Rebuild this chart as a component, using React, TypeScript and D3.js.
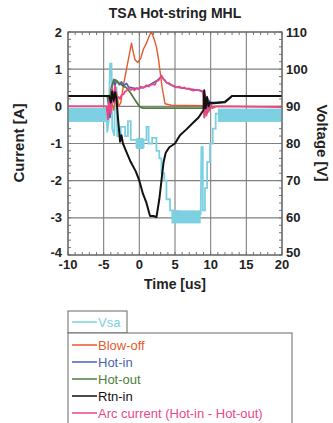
import React from 'react';
import * as d3 from 'd3';

// time [us] vs current [A] (left) and voltage [V] (right)
const xTicks = [-10, -5, 0, 5, 10, 15, 20];
const currentTicks = [-4, -3, -2, -1, 0, 1, 2];
const voltageTicks = [50, 60, 70, 80, 90, 100, 110];

const blowOff: [number, number][] = [
  [-10, 0.0], [-4.5, 0.0], [-4.2, -0.3], [-4.0, 0.2], [-3.6, -0.1], [-3.2, 0.4], [-2.9, 0.0], [-2.6, 0.1],
  [-2.2, 0.6], [-1.8, 1.0], [-1.4, 1.4], [-1.1, 1.7], [-0.9, 1.5], [-0.6, 1.25], [-0.2, 1.18], [0.2, 1.3],
  [0.6, 1.55], [1.0, 1.7], [1.4, 1.9], [1.7, 2.0], [2.0, 1.85], [2.4, 1.6], [2.7, 1.25], [2.9, 0.95],
  [3.2, 0.5], [3.6, 0.07], [4.5, 0.03], [9.0, 0.02], [9.15, -0.3], [9.3, 0.1], [9.5, -0.2], [9.8, 0.0], [20, 0.0],
];

const hotIn: [number, number][] = [
  [-10, 0.28], [-4.5, 0.28], [-4.3, 0.0], [-4.1, -0.3], [-3.9, 0.5], [-3.6, 0.72], [-3.4, 0.55], [-3.2, 0.7],
  [-2.8, 0.58], [-2.5, 0.66], [-2.2, 0.55], [-1.8, 0.62], [-1.5, 0.52], [-1.0, 0.5], [-0.5, 0.48], [0.5, 0.5],
  [1.5, 0.58], [2.5, 0.7], [3.1, 0.8], [3.8, 0.64], [5, 0.52], [6.5, 0.48], [8.5, 0.43], [9.0, 0.4],
  [9.2, -0.1], [9.5, 0.2], [10, 0.1], [12, 0.12], [13, 0.28], [20, 0.28],
];

const hotOut: [number, number][] = [
  [-10, 0.28], [-4.5, 0.28], [-4.2, 0.1], [-3.9, 0.5], [-3.5, 0.72], [-3.2, 0.68], [-2.8, 0.62], [-2.3, 0.55],
  [-1.8, 0.5], [-1.2, 0.35], [-0.5, 0.14], [0, 0.0], [0.5, -0.05], [9.0, -0.05], [9.2, 0.3], [9.4, -0.2],
  [9.6, 0.15], [9.8, -0.1], [10.2, 0.08], [12, 0.1], [13, 0.28], [20, 0.28],
];

const rtnIn: [number, number][] = [
  [-10, 0.28], [-4.2, 0.28], [-4.0, 0.1], [-3.8, 0.4], [-3.6, 0.15], [-3.4, 0.38], [-3.2, 0.2], [-3.0, -0.3],
  [-2.7, -0.95], [-2.5, -0.78], [-2.3, -1.0], [-1.8, -1.23], [-1.2, -1.5], [-0.5, -1.75], [0, -2.0],
  [0.5, -2.35], [1.0, -2.6], [1.5, -2.95], [2.0, -2.95], [2.4, -2.98], [2.8, -2.5], [3.1, -2.0], [3.4, -1.5],
  [3.7, -1.25], [4.2, -1.1], [5, -1.0], [5.7, -0.78], [6.6, -0.62], [7.5, -0.45], [8.3, -0.3], [9.0, -0.1],
  [9.1, 0.43], [9.3, -0.05], [9.5, 0.25], [9.7, 0.0], [9.9, 0.1], [10.5, 0.08], [12, 0.12], [12.5, 0.2],
  [13, 0.28], [20, 0.28],
];

const arcCurrent: [number, number][] = [
  [-10, 0.0], [-4.6, 0.0], [-4.4, -0.35], [-4.2, 0.2], [-4.0, -0.2], [-3.8, 0.5], [-3.6, 0.1], [-3.4, 0.55],
  [-3.2, 0.2], [-2.9, 0.25], [-2.7, 0.2], [-2.5, 0.3], [-2.2, 0.33], [-2.0, 0.4], [-1.8, 0.42], [-1.5, 0.5],
  [-1.2, 0.44], [-1.0, 0.47], [-0.7, 0.43], [-0.4, 0.49], [-0.1, 0.46], [0.2, 0.53], [0.6, 0.5], [1.0, 0.57],
  [1.3, 0.53], [1.5, 0.56], [1.9, 0.6], [2.2, 0.58], [2.4, 0.68], [2.7, 0.7], [2.9, 0.77], [3.1, 0.83],
  [3.4, 0.72], [3.6, 0.7], [3.8, 0.64], [4.2, 0.62], [4.5, 0.57], [4.9, 0.55], [5.2, 0.51], [5.6, 0.53],
  [6.0, 0.49], [6.3, 0.51], [6.6, 0.47], [7.0, 0.48], [7.2, 0.44], [7.6, 0.42], [8.0, 0.45], [8.5, 0.42],
  [8.9, 0.38], [9.0, 0.1], [9.1, -0.3], [9.25, 0.3], [9.4, -0.25], [9.55, 0.2], [9.7, -0.15], [9.9, 0.08],
  [10.2, -0.05], [10.8, 0.0], [20, -0.02],
];

// Vsa (voltage): noisy bands [t0, t1, low, high] plus the stepped trace
const vsaBands: [number, number, number, number][] = [
  [-10, -4.6, 85.8, 89.6],
  [-0.4, 0.6, 78.5, 81.5],
  [4.5, 8.6, 58.5, 62],
  [11, 20, 85.8, 89.4],
];
const vsa: [number, number][] = [
  [-4.6, 88], [-4.5, 83], [-4.3, 86], [-4.1, 101.5], [-3.9, 101.5], [-3.8, 84], [-3.5, 82], [-3.4, 95],
  [-3.2, 95], [-3.1, 82], [-2.6, 82], [-2.6, 84.5], [-2.0, 84.5], [-2.0, 82], [-1.6, 82], [-1.6, 86],
  [-1.2, 86], [-1.2, 81], [-0.4, 81], [-0.4, 79], [0.6, 79], [0.6, 81], [1.0, 81], [1.0, 84.5], [1.3, 84.5],
  [1.3, 80], [1.8, 80], [1.8, 81.5], [2.4, 81.5], [2.4, 78], [2.8, 78], [2.8, 76], [3.1, 76], [3.1, 72],
  [3.5, 72], [3.5, 70], [3.8, 70], [3.8, 65], [4.3, 65], [4.3, 62], [4.5, 62], [8.6, 61], [8.7, 79],
  [8.9, 79], [8.9, 62], [9.2, 62], [9.2, 68], [9.5, 68], [9.5, 75], [9.9, 75], [9.9, 80], [10.3, 80],
  [10.3, 84], [10.7, 84], [10.7, 88], [11, 88],
];

const legendItems = [
  { label: 'Blow-off', color: '#e35a2c' },
  { label: 'Hot-in', color: '#4a5fb8' },
  { label: 'Hot-out', color: '#4f7d3a' },
  { label: 'Rtn-in', color: '#111111' },
  { label: 'Arc current (Hot-in - Hot-out)', color: '#e8488a' },
];
const vsaColor = '#7dd0e2';

const font = '"Liberation Sans", Arial, sans-serif';

export default function App() {
  const left = 68, right = 282, top = 32, bottom = 255;
  const x = d3.scaleLinear().domain([-10, 20]).range([left, right]);
  const yI = d3.scaleLinear().domain([-4, 2]).range([bottom, top]);
  const yV = d3.scaleLinear().domain([50, 110]).range([bottom, top]);

  const lineI = d3.line<[number, number]>().x(d => x(d[0])).y(d => yI(d[1]));
  const lineV = d3.line<[number, number]>().x(d => x(d[0])).y(d => yV(d[1]));

  const minorX = d3.range(-10, 20.01, 1);
  const minorY = d3.range(-4, 2.001, 0.2);

  const series = [
    { data: blowOff, color: legendItems[0].color, w: 1.4 },
    { data: hotIn, color: legendItems[1].color, w: 1.6 },
    { data: hotOut, color: legendItems[2].color, w: 1.8 },
    { data: arcCurrent, color: legendItems[4].color, w: 1.8 },
    { data: rtnIn, color: legendItems[3].color, w: 2 },
  ];

  return (
    <svg width={333} height={423} style={{ position: 'absolute', left: 0, top: 0, background: '#fff' }}>
      <defs>
        <clipPath id="plot">
          <rect x={left} y={top} width={right - left} height={bottom - top} />
        </clipPath>
      </defs>

      <text x={175} y={18} textAnchor="middle" fontFamily={font} fontWeight="bold" fontSize={14} fill="#222">
        TSA Hot-string MHL
      </text>

      {/* grid */}
      {xTicks.map(t => (
        <line key={'gx' + t} x1={x(t)} x2={x(t)} y1={top} y2={bottom} stroke="#808080" strokeWidth={1.1} />
      ))}
      {currentTicks.map(t => (
        <line key={'gy' + t} x1={left} x2={right} y1={yI(t)} y2={yI(t)} stroke="#808080" strokeWidth={1.1} />
      ))}
      {minorX.map(t => (
        <g key={'mx' + t}>
          <line x1={x(t)} x2={x(t)} y1={top} y2={top + 3} stroke="#777" />
          <line x1={x(t)} x2={x(t)} y1={bottom} y2={bottom - 3} stroke="#777" />
        </g>
      ))}
      {minorY.map(t => (
        <g key={'my' + t.toFixed(1)}>
          <line x1={left} x2={left + 3} y1={yI(t)} y2={yI(t)} stroke="#777" />
          <line x1={right} x2={right - 3} y1={yI(t)} y2={yI(t)} stroke="#777" />
        </g>
      ))}

      <g clipPath="url(#plot)">
        {vsaBands.map((b, i) => (
          <rect key={'vb' + i} x={x(b[0])} y={yV(b[3])} width={x(b[1]) - x(b[0])} height={yV(b[2]) - yV(b[3])} fill={vsaColor} />
        ))}
        <path d={lineV(vsa) || ''} fill="none" stroke={vsaColor} strokeWidth={1.8} />
        {series.map((s, i) => (
          <path key={'s' + i} d={lineI(s.data) || ''} fill="none" stroke={s.color} strokeWidth={s.w} strokeLinejoin="round" />
        ))}
      </g>

      <rect x={left} y={top} width={right - left} height={bottom - top} fill="none" stroke="#666" strokeWidth={1.2} />

      {/* axes labels */}
      {currentTicks.map(t => (
        <text key={'ly' + t} x={left - 6} y={yI(t) - (t === -4 ? 3 : 0)} dy="0.35em" textAnchor="end" fontFamily={font} fontWeight="bold" fontSize={13} fill="#222">
          {t}
        </text>
      ))}
      {voltageTicks.map(t => (
        <text key={'ry' + t} x={right + 4} y={yV(t) - (t === 50 ? 3 : 0)} dy="0.35em" textAnchor="start" fontFamily={font} fontWeight="bold" fontSize={13} fill="#222">
          {t}
        </text>
      ))}
      {xTicks.map(t => (
        <text key={'lx' + t} x={x(t)} y={bottom + 14} textAnchor="middle" fontFamily={font} fontWeight="bold" fontSize={13} fill="#222">
          {t}
        </text>
      ))}
      <text x={175} y={289} textAnchor="middle" fontFamily={font} fontWeight="bold" fontSize={14} fill="#222">
        Time [us]
      </text>
      <text transform="translate(24,143) rotate(-90)" textAnchor="middle" fontFamily={font} fontWeight="bold" fontSize={15} fill="#222">
        Current [A]
      </text>
      <text transform="translate(317,143) rotate(90)" textAnchor="middle" fontFamily={font} fontWeight="bold" fontSize={15} fill="#222">
        Voltage [V]
      </text>

      {/* legends */}
      <rect x={68} y={311} width={59} height={22} fill="#fff" stroke="#666" />
      <line x1={72} x2={97} y1={322} y2={322} stroke={vsaColor} strokeWidth={1.5} />
      <text x={98} y={322} dy="0.35em" fontFamily={font} fontSize={13} fill={vsaColor}>Vsa</text>

      <rect x={68} y={333} width={224} height={100} fill="#fff" stroke="#666" />
      {legendItems.map((it, i) => {
        const cy = 345 + i * 17;
        return (
          <g key={it.label}>
            <line x1={72} x2={97} y1={cy} y2={cy} stroke={it.color} strokeWidth={1.5} />
            <text x={98} y={cy} dy="0.35em" fontFamily={font} fontSize={13} fill={it.color}>{it.label}</text>
          </g>
        );
      })}
    </svg>
  );
}
